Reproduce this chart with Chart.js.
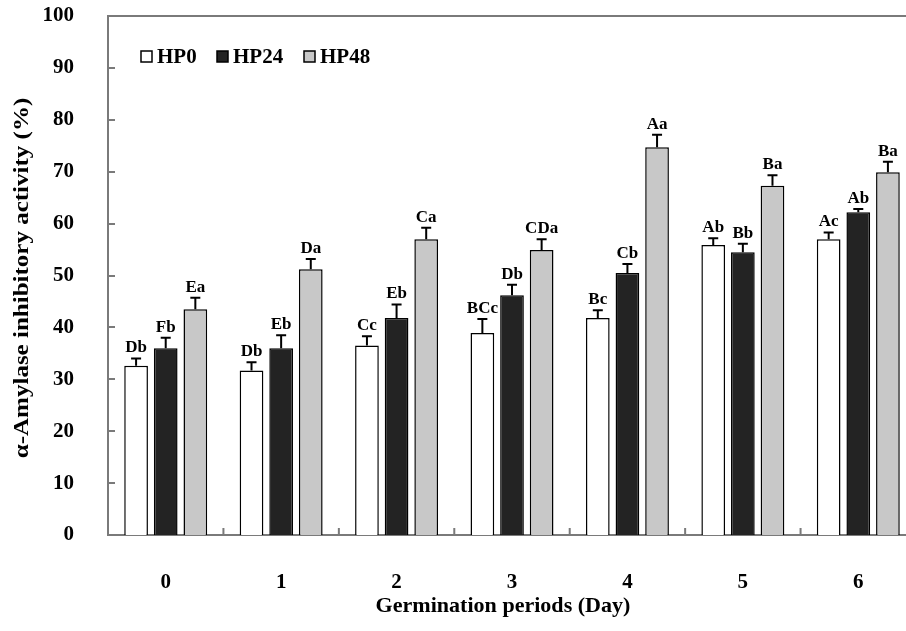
<!DOCTYPE html>
<html>
<head>
<meta charset="utf-8">
<script src="https://cdn.jsdelivr.net/npm/chart.js"></script>
<style>
  html, body { margin: 0; padding: 0; background: #fff; overflow: hidden; width: 906px; height: 631px; }
  canvas { display: block; }
</style>
</head>
<body>
<canvas id="chart" width="922" height="631"></canvas>
<script>
const days = ["0", "1", "2", "3", "4", "5", "6"];
const seriesNames = ["HP0", "HP24", "HP48"];
const hp0 = [32.6, 31.7, 36.5, 38.9, 41.8, 55.9, 57.0];
const hp24 = [36.0, 36.0, 41.8, 46.2, 50.5, 54.5, 62.2];
const hp48 = [43.5, 51.2, 57.0, 54.9, 74.7, 67.3, 69.9];
const hp0Err = [1.4, 1.6, 1.8, 2.7, 1.5, 1.3, 1.3];
const hp24Err = [2.0, 2.5, 2.6, 2.0, 1.7, 1.6, 0.6];
const hp48Err = [2.2, 2.0, 2.2, 2.1, 2.4, 2.0, 2.0];
const hp0Letters = ["Db", "Db", "Cc", "BCc", "Bc", "Ab", "Ac"];
const hp24Letters = ["Fb", "Eb", "Eb", "Db", "Cb", "Bb", "Ab"];
const hp48Letters = ["Ea", "Da", "Ca", "CDa", "Aa", "Ba", "Ba"];
const yTicks = [0, 10, 20, 30, 40, 50, 60, 70, 80, 90, 100];
const xTitle = "Germination periods (Day)";
const yTitle = "α-Amylase inhibitory activity (%)";

const errs = [hp0Err, hp24Err, hp48Err];
const letters = [hp0Letters, hp24Letters, hp48Letters];
const fills = ["#ffffff", "#232323", "#c8c8c8"];
const serif = "'Liberation Serif', 'DejaVu Serif', serif";
const axisGray = "#7a7a7a";

// error bars, letters, inward ticks, top frame line, legend, axis titles
const extras = {
  id: "extras",
  afterDatasetsDraw(chart) {
    const ctx = chart.ctx;
    const y = chart.scales.y;
    const x = chart.scales.x;
    const area = chart.chartArea;
    ctx.save();
    chart.data.datasets.forEach((ds, di) => {
      const meta = chart.getDatasetMeta(di);
      meta.data.forEach((bar, i) => {
        const top = y.getPixelForValue(ds.data[i] + errs[di][i]);
        ctx.strokeStyle = "#000";
        ctx.lineWidth = 2;
        ctx.beginPath();
        ctx.moveTo(bar.x, bar.y);
        ctx.lineTo(bar.x, top);
        ctx.moveTo(bar.x - 5, top);
        ctx.lineTo(bar.x + 5, top);
        ctx.stroke();
        ctx.fillStyle = "#000";
        ctx.font = "bold 17px " + serif;
        ctx.textAlign = "center";
        ctx.textBaseline = "bottom";
        ctx.fillText(letters[di][i], bar.x, top - 2);
      });
    });

    // frame and inward ticks
    ctx.strokeStyle = axisGray;
    ctx.lineWidth = 2;
    ctx.beginPath();
    ctx.moveTo(area.left, area.top);
    ctx.lineTo(area.right, area.top);
    yTicks.forEach(v => {
      const py = Math.round(y.getPixelForValue(v));
      ctx.moveTo(area.left, py);
      ctx.lineTo(area.left + 7, py);
    });
    for (let i = 1; i < days.length; i++) {
      const px = (x.getPixelForValue(i - 1) + x.getPixelForValue(i)) / 2;
      ctx.moveTo(px, area.bottom);
      ctx.lineTo(px, area.bottom - 7);
    }
    ctx.stroke();

    // legend
    const legendX = [141, 217, 304];
    ctx.font = "bold 21px " + serif;
    ctx.textAlign = "left";
    ctx.textBaseline = "middle";
    seriesNames.forEach((name, k) => {
      ctx.fillStyle = fills[k];
      ctx.fillRect(legendX[k], 51, 11, 11);
      ctx.strokeStyle = "#000";
      ctx.lineWidth = 1.5;
      ctx.strokeRect(legendX[k], 51, 11, 11);
      ctx.fillStyle = "#000";
      ctx.fillText(name, legendX[k] + 16, 58);
    });

    // axis titles
    ctx.fillStyle = "#000";
    ctx.textAlign = "center";
    ctx.textBaseline = "middle";
    ctx.save();
    ctx.translate(503, 607);
    ctx.scale(1.05, 1);
    ctx.font = "bold 21px " + serif;
    ctx.fillText(xTitle, 0, 0);
    ctx.restore();
    ctx.save();
    ctx.translate(23, 278);
    ctx.rotate(-Math.PI / 2);
    ctx.scale(1.25, 1);
    ctx.font = "bold 20px " + serif;
    ctx.fillText(yTitle, 0, 0);
    ctx.restore();
    ctx.restore();
  }
};

new Chart(document.getElementById("chart"), {
  type: "bar",
  data: {
    labels: days,
    datasets: [hp0, hp24, hp48].map((d, k) => ({
      label: seriesNames[k],
      data: d,
      backgroundColor: fills[k],
      borderColor: "#000",
      borderWidth: 1.5,
      borderSkipped: "bottom",
      categoryPercentage: 0.77,
      barPercentage: 0.8
    }))
  },
  options: {
    responsive: false,
    animation: false,
    layout: { padding: { top: 16, right: 6, left: 0, bottom: 0 } },
    plugins: {
      legend: { display: false },
      tooltip: { enabled: false }
    },
    scales: {
      x: {
        afterFit(s) { s.height = 96; s.paddingLeft = 0; s.paddingRight = 0; },
        grid: { display: false },
        border: { display: true, color: axisGray, width: 2 },
        ticks: {
          color: "#000",
          padding: 27,
          font: { family: serif, size: 21, weight: "bold" }
        }
      },
      y: {
        min: 0,
        max: 100,
        afterFit(s) { s.width = 108; s.paddingTop = 0; s.paddingBottom = 0; },
        afterBuildTicks(s) { s.ticks = yTicks.map(v => ({ value: v })); },
        grid: { display: false },
        border: { display: true, color: axisGray, width: 2 },
        ticks: {
          color: "#000",
          padding: 26,
          font: { family: serif, size: 21, weight: "bold" }
        }
      }
    }
  },
  plugins: [extras]
});
</script>
</body>
</html>
